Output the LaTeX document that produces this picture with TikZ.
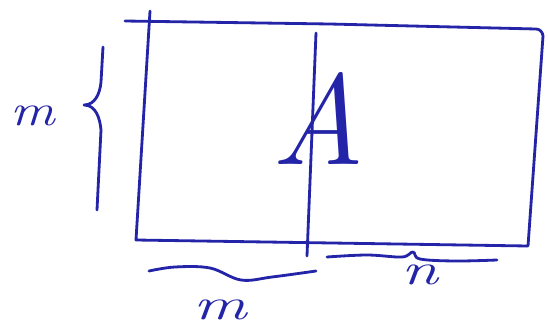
\documentclass[tikz,border=0pt]{standalone}
\usepackage{tikz}
\usetikzlibrary{decorations.pathreplacing}
\definecolor{ink}{HTML}{2424A8}
\tikzset{
	pen/.style={draw=ink, line width=2.4pt, line cap=round, line join=round},
	lbl/.style={text=ink, inner sep=0pt, font=\fontsize{38}{38}\selectfont\itshape},
	bigletter/.style={text=ink, inner sep=0pt, font=\fontsize{110}{110}\selectfont\itshape},
}

\begin{document}
\begin{tikzpicture}[x=0.03cm, y=-0.03cm]
		\fill[white] (0,0) rectangle (548,327);
		\useasboundingbox (0,0) rectangle (548,327);
		% the block and its split
		\draw[pen] (125,21) -- (330,24) -- (536,29) to[out=0,in=95] (543,36)
			-- (528,246) -- (136,240) -- (150,11);
		\draw[pen] (316,33) -- (307,256);
		\node[bigletter] (lblA) at (318,118) {A};
		% braces
		\draw[pen] (97,210) -- (101,130) to[out=95,in=0] (84,105)
			to[out=0,in=-95] (101,82) -- (103,47);
		\draw[pen] plot[smooth, tension=0.6] coordinates
			{(149,271) (175,267) (210,268) (241,280) (272,277) (316,271)};
		\draw[pen] plot[smooth, tension=0.6] coordinates
			{(327,257) (367,255) (402,257) (413,252) (420,259) (455,261) (497,260)};
		\node[lbl, xscale=1.25] (lblRows) at (33,116) {m};
		\node[lbl, xscale=1.5] (lblLeft) at (220,310) {m};
		\node[lbl, xscale=1.5] (lblRight) at (420,275) {n};
	\end{tikzpicture}
\end{document}
